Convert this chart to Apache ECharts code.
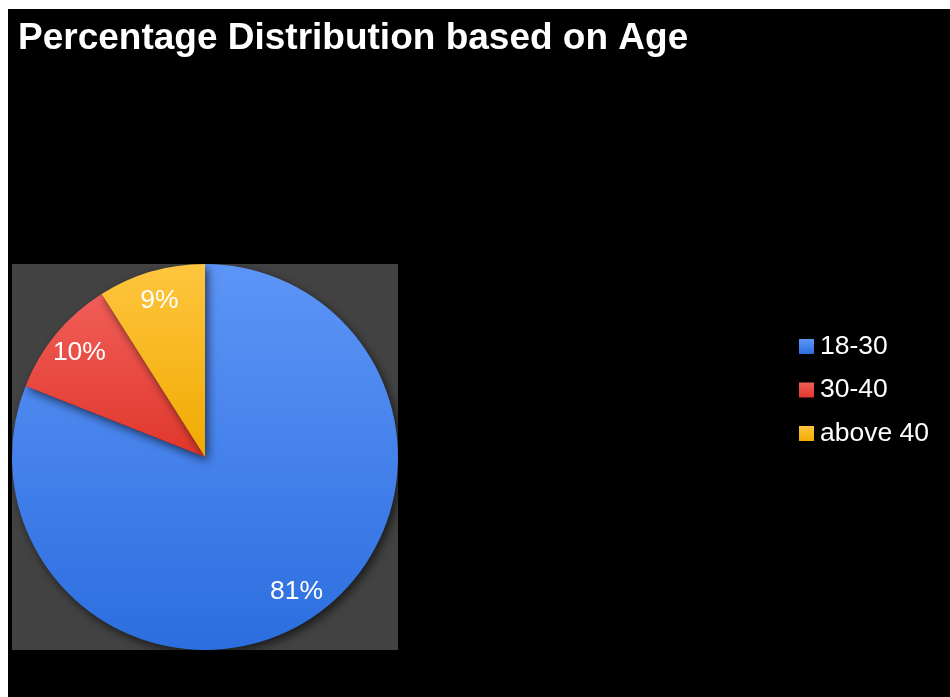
<!DOCTYPE html>
<html>
<head>
<meta charset="utf-8">
<script src="https://cdn.jsdelivr.net/npm/echarts@6/dist/echarts.min.js"></script>
<style>
html,body{margin:0;padding:0;background:#fff;width:950px;height:697px;overflow:hidden;}
#chart{position:absolute;left:8px;top:9px;width:942px;height:688px;}
</style>
</head>
<body>
<div id="chart"></div>
<script>
const titleText = 'Percentage Distribution based on Age';
const categories = ['18-30', '30-40', 'above 40'];
const values = [81, 10, 9];
const topColors = ['#5d95f7', '#f05e58', '#ffc53f'];
const bottomColors = ['#2c6edf', '#e0372b', '#f0aa00'];

function grad(i) {
  return new echarts.graphic.LinearGradient(0, 0, 0, 1, [
    {offset: 0, color: topColors[i]},
    {offset: 1, color: bottomColors[i]}
  ]);
}

const chart = echarts.init(document.getElementById('chart'));
const font = '"Liberation Sans", Arial, Helvetica, sans-serif';

chart.setOption({
  backgroundColor: '#000',
  animation: false,
  title: {
    text: titleText,
    left: 10,
    top: 11,
    padding: 0,
    textStyle: {color: '#fff', fontSize: 37, fontWeight: 'bold', fontFamily: font}
  },
  graphic: [{
    type: 'rect',
    left: 4, top: 255,
    shape: {width: 386, height: 386},
    style: {fill: '#424242'},
    z: -1
  }],
  legend: {
    orient: 'vertical',
    left: 791,
    top: 324,
    padding: 0,
    itemWidth: 15,
    itemHeight: 15,
    itemGap: 16.5,
    icon: 'rect',
    textStyle: {color: '#fff', fontSize: 26.5, fontFamily: font, padding: [0, 0, 0, 1]},
    data: categories.map((c, i) => ({name: c, itemStyle: {color: grad(i)}}))
  },
  series: [{
    type: 'pie',
    center: [197, 448],
    radius: [0, 193],
    startAngle: 90,
    clockwise: true,
    label: {show: false},
    labelLine: {show: false},
    itemStyle: {
      shadowBlur: 10,
      shadowOffsetX: 3,
      shadowOffsetY: 4,
      shadowColor: 'rgba(0,0,0,0.6)'
    },
    data: categories.map((c, i) => ({name: c, value: values[i], itemStyle: {color: grad(i)}}))
  }, {
    type: 'pie',
    center: [197, 448],
    radius: [127, 193],
    startAngle: 90,
    clockwise: true,
    silent: true,
    legendHoverLink: false,
    itemStyle: {color: 'rgba(0,0,0,0)', borderWidth: 0},
    label: {
      show: true,
      position: 'inside',
      formatter: '{c}%',
      color: '#fff',
      fontSize: 26.5,
      fontFamily: font
    },
    labelLine: {show: false},
    data: categories.map((c, i) => ({name: c, value: values[i]}))
  }]
});
</script>
</body>
</html>
